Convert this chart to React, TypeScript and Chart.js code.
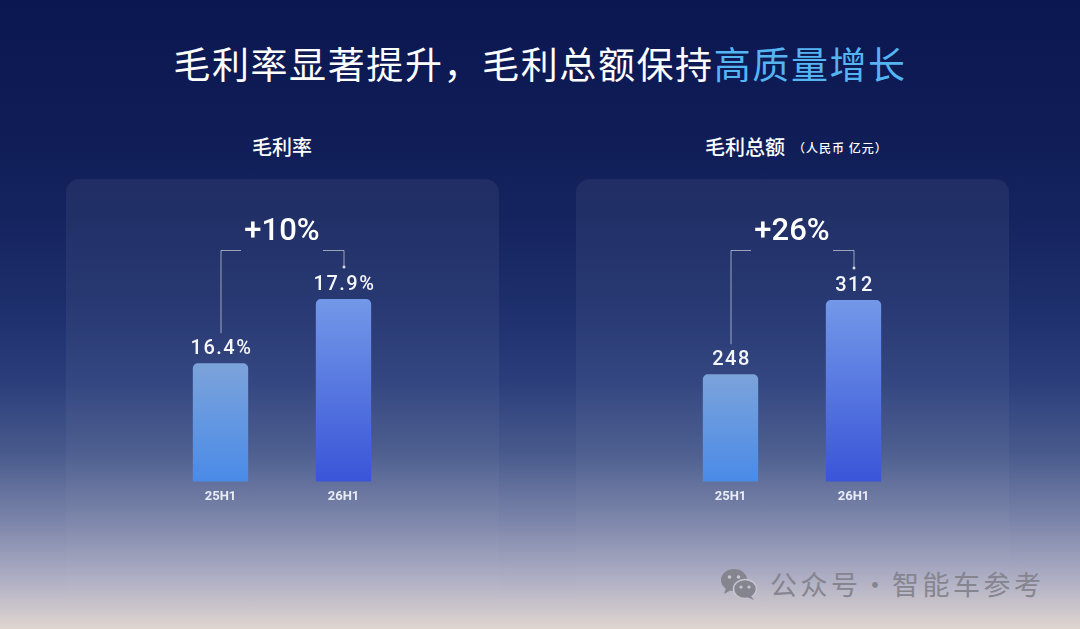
import { useEffect, useRef } from "react"
import Chart from "chart.js/auto"

const periods = ["25H1", "26H1"]
const marginRate = [16.4, 17.9]
const grossProfit = [248, 312]
const marginChange = "+10%"
const profitChange = "+26%"

const barTops = ["#7ca3da", "#7398e8"]
const barBottoms = ["#4a8be8", "#3a55d8"]

const NUM_FONT = "Roboto, 'Noto Sans', sans-serif"
const CJK_FONT = "'Noto Sans CJK SC', 'Noto Sans', sans-serif"

const changePlugin = {
  id: "changeBracket",
  afterDatasetsDraw(chart: any, _args: any, opts: any) {
    const { ctx, chartArea } = chart
    const meta = chart.getDatasetMeta(0)
    const bars = meta.data
    const values = chart.data.datasets[0].data as number[]
    ctx.save()
    // value labels above bars
    ctx.fillStyle = "#f4f6fb"
    ctx.font = `500 20px ${NUM_FONT}`
    ctx.textAlign = "center"
    ctx.textBaseline = "middle"
    ;(ctx as any).letterSpacing = "1.5px"
    bars.forEach((bar: any, i: number) => {
      ctx.fillText(opts.format(values[i]), bar.x + 1, bar.y - 14)
    })
    ;(ctx as any).letterSpacing = "0px"

    // change bracket
    const x0 = bars[0].x
    const x1 = bars[1].x
    const mid = (x0 + x1) / 2
    const lineY = chartArea.top + 31
    ctx.font = `500 31px ${NUM_FONT}`
    ctx.fillStyle = "#ffffff"
    ctx.fillText(opts.label, mid, chartArea.top + 13)

    ctx.strokeStyle = "rgba(255,255,255,0.55)"
    ctx.lineWidth = 1
    ctx.beginPath()
    ctx.moveTo(x0 + 0.5, bars[0].y - 30)
    ctx.lineTo(x0 + 0.5, lineY + 0.5)
    ctx.lineTo(mid - 41, lineY + 0.5)
    ctx.moveTo(mid + 41, lineY + 0.5)
    ctx.lineTo(x1 + 0.5, lineY + 0.5)
    ctx.lineTo(x1 + 0.5, bars[1].y - 32)
    ctx.stroke()
    ctx.fillStyle = "rgba(255,255,255,0.8)"
    ctx.beginPath()
    ctx.arc(x1 + 0.5, bars[1].y - 32, 1.5, 0, Math.PI * 2)
    ctx.fill()
    ctx.restore()
  },
}

function BarPanel({
  values,
  min,
  max,
  label,
  format,
}: {
  values: number[]
  min: number
  max: number
  label: string
  format: (v: number) => string
}) {
  const chartRef = useRef<HTMLCanvasElement>(null)
  const chartInstance = useRef<Chart | null>(null)

  useEffect(() => {
    if (!chartRef.current) return
    const ctx = chartRef.current.getContext("2d")
    if (!ctx) return
    if (chartInstance.current) chartInstance.current.destroy()

    chartInstance.current = new Chart(ctx, {
      type: "bar",
      data: {
        labels: periods,
        datasets: [
          {
            data: values,
            backgroundColor: (c: any) => {
              const chart = c.chart
              const area = chart.chartArea
              const i = c.dataIndex
              if (!area || c.raw === undefined) return barBottoms[i]
              const top = chart.scales.y.getPixelForValue(c.raw)
              const g = chart.ctx.createLinearGradient(0, top, 0, area.bottom)
              g.addColorStop(0, barTops[i])
              g.addColorStop(1, barBottoms[i])
              return g
            },
            borderRadius: { topLeft: 5, topRight: 5, bottomLeft: 0, bottomRight: 0 },
            borderSkipped: "bottom",
            barPercentage: 0.45,
            categoryPercentage: 1,
          },
        ],
      },
      options: {
        animation: false,
        responsive: true,
        maintainAspectRatio: false,
        layout: { padding: { left: 93, right: 93, top: 40, bottom: 16 } },
        plugins: {
          legend: { display: false },
          tooltip: { enabled: false },
          changeBracket: { label, format },
        } as any,
        scales: {
          x: {
            grid: { display: false },
            border: { display: false },
            ticks: {
              color: "#e8ecf6",
              padding: 0,
              font: { family: NUM_FONT, size: 13, weight: "bold" },
            },
          },
          y: {
            display: false,
            min,
            max,
          },
        },
      },
      plugins: [changePlugin],
    })

    return () => {
      if (chartInstance.current) {
        chartInstance.current.destroy()
        chartInstance.current = null
      }
    }
  }, [values, min, max, label])

  return (
    <div style={{ position: "absolute", left: 0, top: 0, width: 432, height: 342 }}>
      <canvas ref={chartRef} />
    </div>
  )
}

const panelStyle = (left: number): React.CSSProperties => ({
  position: "absolute",
  left,
  top: 179,
  width: 433,
  height: 470,
  borderRadius: 14,
  background:
    "linear-gradient(180deg, rgba(255,255,255,0.06) 0%, rgba(255,255,255,0.045) 45%, rgba(255,255,255,0.02) 75%, rgba(255,255,255,0) 100%)",
})

function WeChatIcon() {
  return (
    <svg width="38" height="34" viewBox="0 0 38 34" style={{ marginRight: 12 }}>
      <ellipse cx="14" cy="13" rx="13" ry="11" fill="#85858f" />
      <path d="M6 21 L4 27 L11 23 Z" fill="#85858f" />
      <ellipse cx="25" cy="22" rx="11.5" ry="9.5" fill="#85858f" stroke="#c9c5cf" strokeWidth="1.5" />
      <path d="M31 29 L34 33 L27 30 Z" fill="#85858f" />
      <circle cx="9.5" cy="10" r="1.8" fill="#c9c5cf" />
      <circle cx="18.5" cy="10" r="1.8" fill="#c9c5cf" />
      <circle cx="21" cy="20" r="1.6" fill="#c9c5cf" />
      <circle cx="29" cy="20" r="1.6" fill="#c9c5cf" />
    </svg>
  )
}

export default function App() {
  return (
    <div
      style={{
        position: "fixed",
        left: 0,
        top: 0,
        width: 1080,
        height: 629,
        overflow: "hidden",
        fontFamily: CJK_FONT,
        background:
          "linear-gradient(180deg, #0b1750 0%, #0f1c56 20%, #15245f 35%, #1e306d 50%, #2c3f7c 61%, #485a8c 72%, #7c85aa 83%, #aeaec4 92%, #e0d5cf 100%)",
      }}
    >
      <div
        style={{
          position: "absolute",
          top: 36,
          left: 0,
          width: 1080,
          textAlign: "center",
          fontSize: 37,
          fontWeight: 400,
          color: "#ffffff",
          letterSpacing: 1.6,
        }}
      >
        毛利率显著提升，毛利总额保持
        <span style={{ color: "#55b4f2" }}>高质量增长</span>
      </div>

      <div
        style={{
          position: "absolute",
          top: 132,
          left: 182,
          width: 200,
          textAlign: "center",
          fontSize: 20,
          fontWeight: 500,
          color: "#ffffff",
        }}
      >
        毛利率
      </div>
      <div
        style={{
          position: "absolute",
          top: 132,
          left: 705,
          whiteSpace: "nowrap",
          fontSize: 20,
          fontWeight: 500,
          color: "#ffffff",
        }}
      >
        毛利总额
        <span style={{ fontSize: 12, marginLeft: 8, verticalAlign: 2, letterSpacing: 1 }}>
          （人民币 亿元）
        </span>
      </div>

      <div style={panelStyle(66)}>
        <BarPanel
          values={marginRate}
          min={13.634}
          max={19.775}
          label={marginChange}
          format={(v) => v.toFixed(1) + "%"}
        />
      </div>
      <div style={panelStyle(576)}>
        <BarPanel
          values={grossProfit}
          min={155.46}
          max={382.05}
          label={profitChange}
          format={(v) => String(v)}
        />
      </div>

      <div
        style={{
          position: "absolute",
          left: 720,
          top: 564,
          display: "flex",
          alignItems: "center",
          fontSize: 27,
          color: "#85858f",
          whiteSpace: "nowrap",
          letterSpacing: 3.5,
        }}
      >
        <WeChatIcon />
        公众号·智能车参考
      </div>
    </div>
  )
}
